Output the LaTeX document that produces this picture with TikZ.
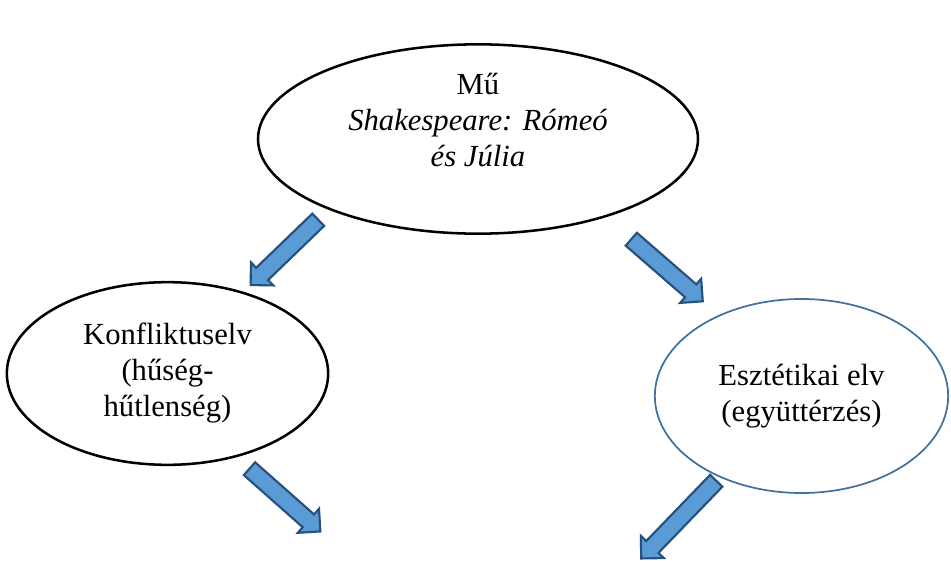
\documentclass[tikz,border=0pt]{standalone}
\usepackage{fontspec}
\setmainfont{Liberation Serif}
\usepackage{tikz}
\usetikzlibrary{shapes.geometric, shapes.arrows, positioning}
\definecolor{arrowfill}{RGB}{91,155,213}
\definecolor{arrowline}{RGB}{38,80,125}
\definecolor{ovalblue}{RGB}{65,113,156}

\begin{document}
\begin{tikzpicture}[
		x=0.75pt, y=-0.75pt,
		font=\fontsize{23}{27}\selectfont,
		oval/.style={ellipse, draw, line width=1.9pt, align=center, inner sep=0pt},
		bluearrow/.style={single arrow, draw=arrowline, fill=arrowfill, line width=1.6pt,
			inner xsep=0pt, inner ysep=5.6pt, minimum width=0pt,
			single arrow head extend=5.6pt, anchor=tail}
		]
		\useasboundingbox (0,0) rectangle (951,561);
		
		% --- Ellipses ---
		\node[oval, minimum width=330pt, minimum height=142pt,
			label={[align=center, yshift=14pt]center:{Mű\\\textit{Shakespeare: Rómeó}\\\textit{és Júlia}}}] (mu) at (478,139) {};
		\node[oval, minimum width=241pt, minimum height=137pt] (konflikt) at (167.5,373.5) {Konfliktuselv\\(hűség-\\hűtlenség)};
		\node[oval, draw=ovalblue, line width=1.3pt, minimum width=220pt, minimum height=145.5pt] (esztetika) at (801.5,396) {Esztétikai elv\\(együttérzés)};
		
		% --- Block arrows (placed by their tail) ---
		\node[bluearrow, rotate=224, minimum height=70.5pt] (arrow_mu_left) at (319,219) {};
		\node[bluearrow, rotate=-41, minimum height=71pt] (arrow_mu_right) at (630.5,238.5) {};
		\node[bluearrow, rotate=-41.5, minimum height=71pt] (arrow_konflikt) at (248.7,468) {};
		\node[bluearrow, rotate=226, minimum height=81pt] (arrow_esztetika) at (717,480) {};
		
\end{tikzpicture}
\end{document}
